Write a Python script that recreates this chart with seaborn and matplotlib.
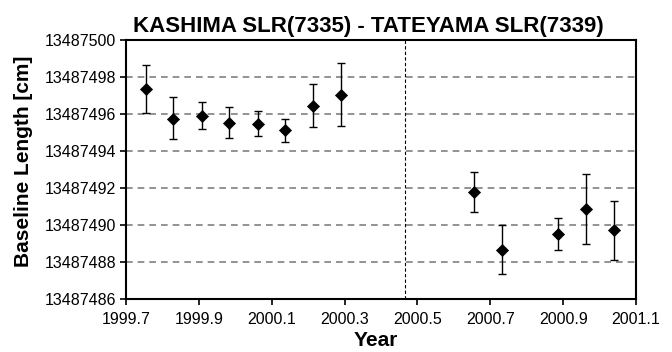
import numpy as np
import pandas as pd
import matplotlib
matplotlib.use("Agg")
import matplotlib.pyplot as plt
import seaborn as sns

years = [1999.754, 1999.830, 1999.908, 1999.984, 2000.061, 2000.136, 2000.214, 2000.290,
         2000.656, 2000.732, 2000.886, 2000.962, 2001.039]
length = [13487497.33, 13487495.75, 13487495.91, 13487495.51, 13487495.46, 13487495.12,
          13487496.44, 13487497.05, 13487491.77, 13487488.66, 13487489.51, 13487490.85,
          13487489.71]
err_low = [1.29, 1.12, 0.70, 0.83, 0.65, 0.62, 1.16, 1.72, 1.07, 1.31, 0.85, 1.88, 1.58]
err_high = [1.31, 1.16, 0.74, 0.85, 0.69, 0.61, 1.19, 1.72, 1.08, 1.32, 0.89, 1.91, 1.59]
split_year = 2000.467
xticks = [1999.7, 1999.9, 2000.1, 2000.3, 2000.5, 2000.7, 2000.9, 2001.1]
yticks = [13487486, 13487488, 13487490, 13487492, 13487494, 13487496, 13487498, 13487500]

df = pd.DataFrame({"Year": years, "Length": length})

sns.set_style("white")
plt.rcParams['font.family'] = ['Liberation Sans', 'DejaVu Sans']
plt.rcParams.update({"text.color": "black", "axes.labelcolor": "black",
                     "xtick.color": "black", "ytick.color": "black"})

fig = plt.figure(figsize=(6.72, 3.52), dpi=100)
ax = fig.add_axes([126/672, 1 - 299/352, (636-126)/672, (299-40)/352])

for yv in yticks[1:-1]:
    ax.axhline(yv, color="#808080", lw=1.2, ls=(0, (4, 3)), zorder=1)
ax.axvline(split_year, color="black", lw=0.8, ls=(0, (3, 2)), zorder=1)

ax.errorbar(years, length, yerr=[err_low, err_high], fmt="none", ecolor="black",
            elinewidth=1.0, capsize=3, capthick=1.0, zorder=2)
sns.scatterplot(data=df, x="Year", y="Length", marker="D", s=38, color="black",
                edgecolor="black", ax=ax, zorder=3)

ax.set_xlim(1999.7, 2001.1)
ax.set_ylim(13487486, 13487500)
ax.set_xticks(xticks)
ax.set_xticklabels([f"{t:.1f}" for t in xticks])
ax.set_yticks(yticks)
ax.set_yticklabels([str(t) for t in yticks])
ax.tick_params(axis="both", direction="out", length=4.5, width=1.2, labelsize=11.5,
               left=True, bottom=True, color="black", labelcolor="black")
ax.tick_params(axis="x", pad=5)
ax.tick_params(axis="y", pad=2.5)
for s in ax.spines.values():
    s.set_linewidth(1.5)
    s.set_color("black")
ax.set_xlabel("Year", fontsize=15, fontweight="bold", color="black")
ax.set_ylabel("Baseline Length [cm]", fontsize=15, fontweight="bold", color="black")
ax.yaxis.set_label_coords(-0.182, 0.533)
ax.xaxis.set_label_coords(0.49, -0.183)
ax.xaxis.label.set_va("baseline")
ax.set_title("KASHIMA SLR(7335) - TATEYAMA SLR(7339)", fontsize=16, fontweight="bold",
             pad=6, x=0.476, color="black")

fig.savefig("out.png", dpi=100)
